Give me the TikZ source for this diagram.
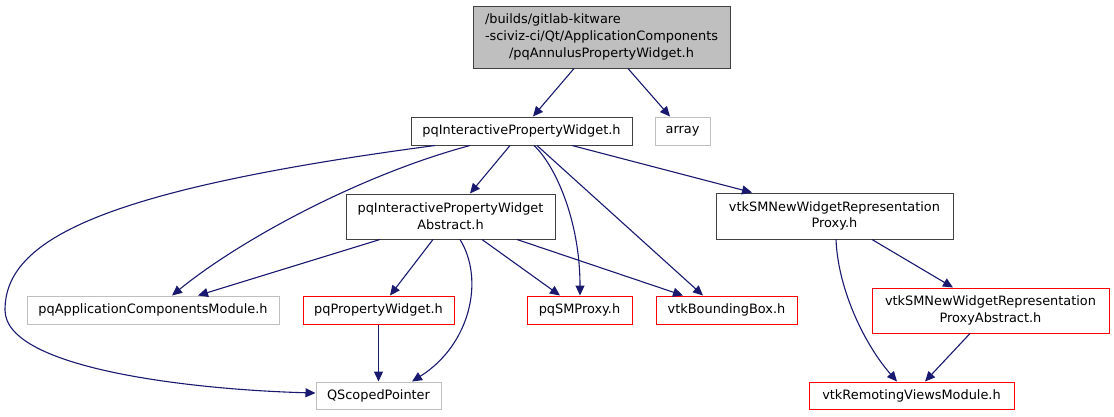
\documentclass[tikz,border=0pt]{standalone}
\usepackage{fontspec}
\setmainfont{DejaVu Sans}
\usetikzlibrary{arrows.meta}
\definecolor{edgeblue}{HTML}{191970}
\definecolor{extgray}{HTML}{BFBFBF}
\definecolor{docgray}{HTML}{404040}
\definecolor{redb}{HTML}{FF0000}
\begin{document}
\begin{tikzpicture}[x=1pt,y=-1pt,
  box/.style={draw=docgray,line width=1pt,rectangle,inner sep=0pt,align=center,
    font=\fontsize{12.9}{16.8}\selectfont,text=black},
  extbox/.style={box,draw=extgray},
  redbox/.style={box,draw=redb},
  dep/.style={draw=edgeblue,line width=1.1pt,-{Triangle[length=10pt,width=9pt]}}]
\useasboundingbox[fill=white] (0,0) rectangle (1114,416);
\node[box,fill=extgray,minimum width=257pt,minimum height=62pt] (top) at (601.5,37)
  {\begin{tabular}{@{}l@{}}/builds/gitlab-kitware\\-sciviz-ci/Qt/ApplicationComponents\\\multicolumn{1}{@{}c@{}}{/pqAnnulusPropertyWidget.h}\end{tabular}};
\node[box,minimum width=221pt,minimum height=28pt] (ipw) at (521.5,131) {pqInteractivePropertyWidget.h};
\node[extbox,minimum width=55pt,minimum height=28pt] (arr) at (682.5,131) {array};
\node[box,minimum width=209pt,minimum height=45pt] (abs) at (450.5,216.5) {pqInteractivePropertyWidget\\Abstract.h};
\node[box,minimum width=237pt,minimum height=46pt] (nwrp) at (834.5,216) {vtkSMNewWidgetRepresentation\\Proxy.h};
\node[extbox,minimum width=252pt,minimum height=28pt] (pam) at (153,310) {pqApplicationComponentsModule.h};
\node[redbox,minimum width=151pt,minimum height=28pt] (pw) at (378.5,310) {pqPropertyWidget.h};
\node[redbox,minimum width=105pt,minimum height=28pt] (smp) at (579.5,310) {pqSMProxy.h};
\node[redbox,minimum width=141pt,minimum height=28pt] (bb) at (726.5,310) {vtkBoundingBox.h};
\node[redbox,minimum width=237pt,minimum height=45pt] (npa) at (990.5,310.5) {vtkSMNewWidgetRepresentation\\ProxyAbstract.h};
\node[extbox,minimum width=125pt,minimum height=27pt] (qsp) at (378.5,395.5) {QScopedPointer};
\node[redbox,minimum width=205pt,minimum height=27pt] (rvm) at (911.5,395.5) {vtkRemotingViewsModule.h};

\draw[dep] ([xshift=-27.5pt]top.south) -- ([xshift=11.5pt]ipw.north);
\draw[dep] ([xshift=26.5pt]top.south) -- ([xshift=-12.5pt]arr.north);
\draw[dep] ([xshift=-11.5pt]ipw.south) -- ([xshift=19.5pt]abs.north);
\draw[dep] ([xshift=12.5pt]ipw.south) .. controls (555,165) and (580,220) .. ([xshift=0.5pt]smp.north);
\draw[dep] ([xshift=15.5pt]ipw.south) -- ([xshift=-23.5pt]bb.north);
\draw[dep] ([xshift=50.5pt]ipw.south) -- ([xshift=-82.5pt]nwrp.north);
\draw[dep] ([xshift=-51.5pt]ipw.south) .. controls (360,175) and (240,240) .. ([xshift=19pt]pam.north);
\draw[dep] ([xshift=-86.5pt]ipw.south) .. controls (100,190) and (5,240) .. (5,310)
  .. controls (5,370) and (200,390) .. ([yshift=2.5pt]qsp.west);
\draw[dep] ([xshift=-70.5pt]abs.south) -- ([xshift=45pt]pam.north);
\draw[dep] ([xshift=-17.5pt]abs.south) -- ([xshift=11.5pt]pw.north);
\draw[dep] ([xshift=9.5pt]abs.south) .. controls (485,280) and (470,345) .. ([xshift=33.5pt]qsp.north);
\draw[dep] ([xshift=31.5pt]abs.south) -- ([xshift=-19.5pt]smp.north);
\draw[dep] ([xshift=66.5pt]abs.south) -- ([xshift=-43.5pt]bb.north);
\draw[dep] (pw.south) -- (qsp.north);
\draw[dep] ([xshift=1.5pt]nwrp.south) .. controls (838,290) and (865,345) .. ([xshift=-14.5pt]rvm.north);
\draw[dep] ([xshift=37.5pt]nwrp.south) -- ([xshift=-37.5pt]npa.north);
\draw[dep] ([xshift=-20.5pt]npa.south) -- ([xshift=13.5pt]rvm.north);
\end{tikzpicture}
\end{document}
